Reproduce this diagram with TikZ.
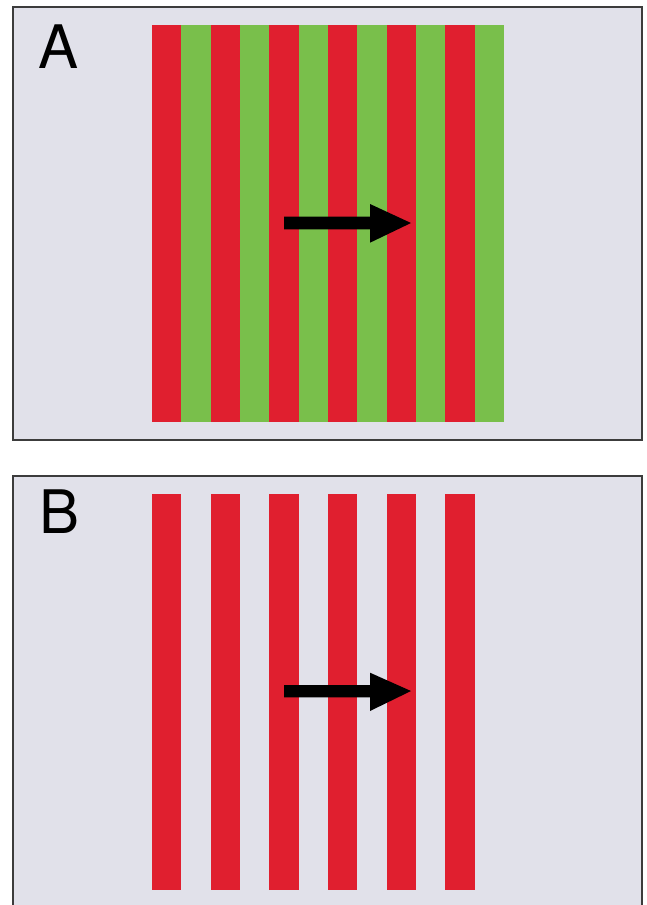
\documentclass[tikz,border=0pt]{standalone}
\usepackage{fontspec}
\setmainfont{TeX Gyre Heros}
\definecolor{bgpanel}{HTML}{E1E1EA}
\definecolor{stripered}{HTML}{E01F2F}
\definecolor{stripegreen}{HTML}{79BF4B}
\definecolor{frame}{HTML}{3C3C3C}
\tikzset{
  redbar/.style={fill=stripered, draw=none},
  greenbar/.style={fill=stripegreen, draw=none},
  panelframe/.style={draw=frame, line width=1.6pt},
  panellabel/.style={anchor=north west, inner sep=0pt, font=\fontsize{60}{60}\selectfont, text=black},
  bigarrow/.style={fill=black, draw=none}
}
\begin{document}
\begin{tikzpicture}[x=1pt,y=-1pt]
\useasboundingbox (0,0) rectangle (647,905);
\fill[white] (0,0) rectangle (647,905);
% Panel A
\fill[bgpanel] (13,7) rectangle (642,440);
\draw[panelframe] (13,7) rectangle (642,440);
\foreach \i in {0,...,5} {
  \fill[redbar] ({152+\i*58.67},25) rectangle ({152+\i*58.67+29.33},422);
  \fill[greenbar] ({181.33+\i*58.67},25) rectangle ({181.33+\i*58.67+29.33},422);
}
\node[panellabel] (labA) at (38,25) {A};
\fill[bigarrow] (284,216.7) -- (370,216.7) -- (370,204) -- (411,223) -- (370,242.7) -- (370,229.3) -- (284,229.3) -- cycle;
% Panel B
\fill[bgpanel] (13,476) rectangle (642,905);
\draw[panelframe] (13,906) -- (13,476) -- (642,476) -- (642,906);
\foreach \i in {0,...,5} {
  \fill[redbar] ({152+\i*58.67},494) rectangle ({152+\i*58.67+29.33},890);
}
\node[panellabel] (labB) at (39,490) {B};
\fill[bigarrow] (284,685) -- (370,685) -- (370,672.7) -- (411,691) -- (370,711) -- (370,697.3) -- (284,697.3) -- cycle;
\end{tikzpicture}
\end{document}
